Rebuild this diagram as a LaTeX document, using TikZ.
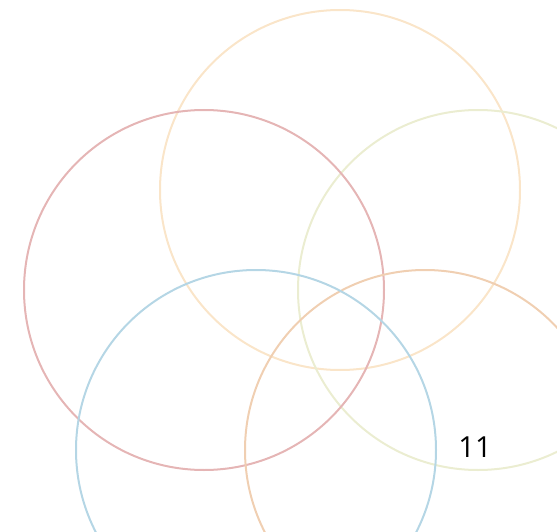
\documentclass[tikz,border=0pt]{standalone}
\usepackage{fontspec}
\setsansfont{Open Sans}
\usepackage{tikz}
\usetikzlibrary{positioning}
\definecolor{pastelpeach}{rgb}{0.98,0.90,0.79}
\definecolor{pastelrose}{rgb}{0.90,0.71,0.71}
\definecolor{pastellime}{rgb}{0.92,0.93,0.82}
\definecolor{pastelblue}{rgb}{0.71,0.84,0.90}
\definecolor{pasteltan}{rgb}{0.94,0.81,0.70}
\tikzset{
  aro/.style={
    line width=2pt
  },
  numero/.style={
    font=\sffamily\fontsize{29}{33}\selectfont,
    text=black,
    inner sep=0pt
  }
}
\begin{document}
\begin{tikzpicture}[x=1pt,y=-1pt]
\useasboundingbox (0,0) rectangle (557,532);
\draw[aro,pastelpeach] (340,190) circle[radius=180];
\draw[aro,pastellime] (478,290) circle[radius=180];
\draw[aro,pastelrose] (204,290) circle[radius=180];
\draw[aro,pasteltan] (425,450) circle[radius=180];
\draw[aro,pastelblue] (256,450) circle[radius=180];
\node[numero] (num) at (475,447) {11};
\end{tikzpicture}
\end{document}
